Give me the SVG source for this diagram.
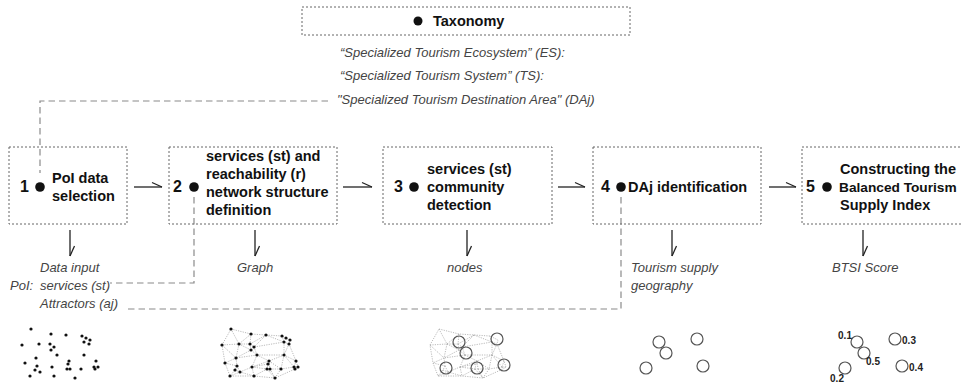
<svg xmlns="http://www.w3.org/2000/svg" xmlns:xlink="http://www.w3.org/1999/xlink" width="961" height="384" viewBox="0 0 961 384">
<style>
.box{fill:none;stroke:#666;stroke-width:1;stroke-dasharray:2 2}
.b{font-family:"Liberation Sans",Arial,sans-serif;font-weight:bold;font-size:14.5px;fill:#111}
.num{font-family:"Liberation Sans",Arial,sans-serif;font-weight:bold;font-size:16px;fill:#111}
.it{font-family:"Liberation Sans",Arial,sans-serif;font-style:italic;font-size:13px;fill:#444}
.dash{fill:none;stroke:#8a8a8a;stroke-width:1.2;stroke-dasharray:6.5 4}
.arr{fill:none;stroke:#222;stroke-width:1.3;marker-end:url(#half)}
.bul{fill:#111}
.dot{fill:#111}
.edge{fill:none;stroke:#aaa;stroke-width:0.8;stroke-dasharray:1.2 1.2}
.cir{fill:none;stroke:#555;stroke-width:1.2}
.lab{font-family:"Liberation Sans",Arial,sans-serif;font-weight:bold;font-size:10px;fill:#222}
</style>
<defs>
<marker id="half" markerUnits="userSpaceOnUse" markerWidth="12" markerHeight="12" refX="0" refY="0" orient="auto" style="overflow:visible">
<path d="M-10,-4.5 L0,0" stroke="#222" stroke-width="1.3" fill="none"/>
</marker>
<g id="dots" class="dot">
<circle cx="31" cy="329" r="1.6"/><circle cx="51" cy="334" r="1.6"/><circle cx="66" cy="335" r="1.6"/><circle cx="82" cy="336" r="1.6"/><circle cx="86" cy="338" r="1.6"/><circle cx="90" cy="340" r="1.6"/><circle cx="84" cy="342" r="1.6"/><circle cx="89" cy="344" r="1.6"/><circle cx="22" cy="345" r="1.6"/><circle cx="39" cy="344" r="1.6"/><circle cx="50" cy="344" r="1.6"/><circle cx="54" cy="347" r="1.6"/><circle cx="51" cy="350" r="1.6"/><circle cx="57" cy="355" r="1.6"/><circle cx="36" cy="358" r="1.6"/><circle cx="25" cy="363" r="1.6"/><circle cx="37" cy="366" r="1.6"/><circle cx="35" cy="370" r="1.6"/><circle cx="40" cy="372" r="1.6"/><circle cx="52" cy="367" r="1.6"/><circle cx="69" cy="361" r="1.6"/><circle cx="68" cy="364" r="1.6"/><circle cx="67" cy="369" r="1.6"/><circle cx="70" cy="369" r="1.6"/><circle cx="81" cy="369" r="1.6"/><circle cx="84" cy="355" r="1.6"/><circle cx="96" cy="361" r="1.6"/><circle cx="98" cy="367" r="1.6"/><circle cx="94" cy="367" r="1.6"/><circle cx="95" cy="369" r="1.6"/><circle cx="30" cy="376" r="1.6"/><circle cx="54" cy="376" r="1.6"/><circle cx="75" cy="378" r="1.6"/>
</g>
<path id="edges" class="edge" d="M31,329L51,334L66,335L82,336L86,338L90,340L89,344L96,361L98,367L95,369L75,378L54,376L30,376L25,363L22,345L31,329 M31,329L39,344 M51,334L39,344 M51,334L50,344 M66,335L50,344 M66,335L54,347 M66,335L84,342 M82,336L84,342 M84,342L89,344 M84,342L84,355 M89,344L84,355 M84,355L96,361 M84,355L69,361 M84,342L54,347 M54,347L57,355 M57,355L69,361 M57,355L84,355 M50,344L54,347 M39,344L50,344 M50,344L51,350 M39,344L51,350 M22,345L39,344 M22,345L36,358 M39,344L36,358 M51,350L36,358 M51,350L57,355 M57,355L36,358 M36,358L37,366 M36,358L25,363 M25,363L37,366 M37,366L35,370 M35,370L30,376 M37,366L40,372 M40,372L52,367 M57,355L52,367 M52,367L69,361 M52,367L68,364 M69,361L68,364 M68,364L67,369 M67,369L70,369 M52,367L67,369 M40,372L54,376 M52,367L54,376 M67,369L54,376 M67,369L75,378 M70,369L75,378 M70,369L81,369 M81,369L75,378 M81,369L94,367 M94,367L95,369 M84,355L81,369 M69,361L81,369 M69,361L70,369 M84,355L94,367 M96,361L94,367 M98,367L94,367 M35,370L40,372 M30,376L40,372"/>
</defs>

<g id="taxonomy">
<rect class="box" x="302" y="7" width="328" height="28"/>
<circle class="bul" cx="418" cy="21" r="4.5"/>
<text class="b" x="433" y="26">Taxonomy</text>
<text class="it" x="340" y="57">“Specialized Tourism Ecosystem” (ES):</text>
<text class="it" x="340" y="80">“Specialized Tourism System” (TS):</text>
<text class="it" x="337" y="104">"Specialized Tourism Destination Area" (DAj)</text>
</g>

<g id="connectors">
<path class="dash" d="M328,101 H40 V173"/>
<path class="dash" d="M194,197 V283 H110"/>
<path class="dash" d="M621,197 V309 H127"/>
<path class="arr" d="M134,187 H162"/>
<path class="arr" d="M343,187 H372"/>
<path class="arr" d="M558,187 H585"/>
<path class="arr" d="M769,187 H796"/>
<path class="arr" d="M70,230 V256"/>
<path class="arr" d="M255,230 V256"/>
<path class="arr" d="M467,230 V256"/>
<path class="arr" d="M672,230 V256"/>
<path class="arr" d="M863,230 V256"/>
</g>

<g id="node1">
<rect class="box" x="9" y="147" width="118" height="77"/>
<text class="num" x="29" y="192" text-anchor="end">1</text>
<circle class="bul" cx="40" cy="187" r="4.8"/>
<text class="b" x="52" y="183">PoI data</text>
<text class="b" x="52" y="201">selection</text>
</g>

<g id="node2">
<rect class="box" x="169" y="147" width="168" height="77"/>
<text class="num" x="182" y="192" text-anchor="end">2</text>
<circle class="bul" cx="194" cy="187" r="4.8"/>
<text class="b" x="206" y="161">services (st) and</text>
<text class="b" x="206" y="179">reachability (r)</text>
<text class="b" x="206" y="197">network structure</text>
<text class="b" x="206" y="215">definition</text>
</g>

<g id="node3">
<rect class="box" x="383" y="147" width="169" height="77"/>
<text class="num" x="403" y="192" text-anchor="end">3</text>
<circle class="bul" cx="414" cy="187" r="4.8"/>
<text class="b" x="427" y="174">services (st)</text>
<text class="b" x="427" y="192">community</text>
<text class="b" x="427" y="210">detection</text>
</g>

<g id="node4">
<rect class="box" x="593" y="147" width="168" height="77"/>
<text class="num" x="610" y="192" text-anchor="end">4</text>
<circle class="bul" cx="621" cy="187" r="4.8"/>
<text class="b" x="628" y="192">DAj identification</text>
</g>

<g id="node5">
<rect class="box" x="802" y="147" width="175" height="77"/>
<text class="num" x="815" y="192" text-anchor="end">5</text>
<circle class="bul" cx="827" cy="187" r="4.8"/>
<text class="b" x="840" y="174">Constructing the</text>
<text class="b" x="839" y="192" style="font-size:13.7px">Balanced Tourism</text>
<text class="b" x="840" y="210">Supply Index</text>
</g>

<g id="labels">
<text class="it" x="40" y="272">Data input</text>
<text class="it" x="10" y="290">PoI:</text>
<text class="it" x="40" y="290">services (st)</text>
<text class="it" x="40" y="308">Attractors (aj)</text>
<text class="it" x="237" y="272">Graph</text>
<text class="it" x="447" y="272">nodes</text>
<text class="it" x="631" y="272">Tourism supply</text>
<text class="it" x="631" y="290">geography</text>
<text class="it" x="832" y="272">BTSI Score</text>
</g>

<g id="thumbnails">
<use xlink:href="#dots" href="#dots"/>
<use xlink:href="#edges" href="#edges" x="200"/>
<use xlink:href="#dots" href="#dots" x="200"/>
<use xlink:href="#edges" href="#edges" x="408"/>
<circle class="cir" cx="459" cy="342" r="6"/>
<circle class="cir" cx="466" cy="353" r="6"/>
<circle class="cir" cx="497" cy="339" r="6"/>
<circle class="cir" cx="446" cy="368" r="6"/>
<circle class="cir" cx="477" cy="368" r="6"/>
<circle class="cir" cx="504" cy="365" r="6"/>
<circle class="cir" cx="659" cy="342" r="6"/>
<circle class="cir" cx="666" cy="353" r="6"/>
<circle class="cir" cx="697" cy="339" r="6"/>
<circle class="cir" cx="646" cy="368" r="6"/>
<circle class="cir" cx="703" cy="366" r="6"/>
<circle class="cir" cx="857" cy="342" r="6"/>
<circle class="cir" cx="864" cy="353" r="6"/>
<circle class="cir" cx="895" cy="339" r="6"/>
<circle class="cir" cx="845" cy="368" r="6"/>
<circle class="cir" cx="902" cy="366" r="6"/>
<text class="lab" x="845" y="338.5" text-anchor="middle">0.1</text>
<text class="lab" x="873" y="364.5" text-anchor="middle">0.5</text>
<text class="lab" x="909" y="343.5" text-anchor="middle">0.3</text>
<text class="lab" x="916" y="370.5" text-anchor="middle">0.4</text>
<text class="lab" x="837" y="381.5" text-anchor="middle">0.2</text>
</g>
</svg>
